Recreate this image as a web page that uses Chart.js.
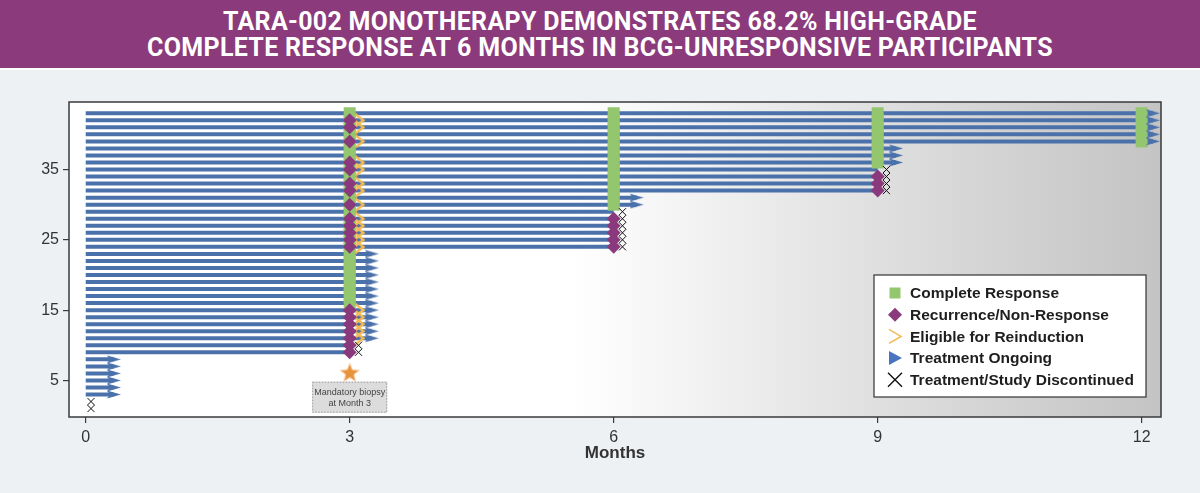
<!DOCTYPE html>
<html>
<head>
<meta charset="utf-8">
<script src="https://cdn.jsdelivr.net/npm/chart.js@4.4.1/dist/chart.umd.min.js"></script>
<style>
html, body { margin: 0; padding: 0; width: 1200px; height: 493px; overflow: hidden; background: #eef1f4; }
#title {
    position: absolute; left: 0; top: 0; width: 1200px; height: 70px; box-sizing: border-box;
    background: #8b3a7b; border-bottom: 2px solid #fff; color: #fff;
    font: 700 25px Roboto, "Liberation Sans", sans-serif; line-height: 26px; letter-spacing: 0.3px;
    text-align: center; padding-top: 9px;
}
#wrap { position: absolute; left: 0; top: 70px; width: 1200px; height: 423px; }
</style>
</head>
<body>
<div id="title">TARA-002 MONOTHERAPY DEMONSTRATES 68.2% HIGH-GRADE<br>COMPLETE RESPONSE AT 6 MONTHS IN BCG-UNRESPONSIVE PARTICIPANTS</div>
<div id="wrap"><canvas id="swimmerChart"></canvas></div>
<script>
// participants, bottom to top
const participants = [1, 2, 3, 4, 5, 6, 7, 8, 9, 10, 11, 12, 13, 14, 15, 16, 17, 18, 19, 20, 21, 22,
    23, 24, 25, 26, 27, 28, 29, 30, 31, 32, 33, 34, 35, 36, 37, 38, 39, 40, 41, 42, 43];
// month where each participant's bar stops
const lineEnd = [0, 0, 0.32, 0.32, 0.32, 0.32, 0.32, 0.32, 3, 3,
    3.25, 3.25, 3.25, 3.25, 3.25, 3.25, 3.25, 3.25, 3.25, 3.25, 3.25, 3.25, 3.25,
    6, 6, 6, 6, 6, 6, 6.26, 6.26, 9, 9, 9, 9, 9.21, 9.21, 9.21,
    12.13, 12.13, 12.13, 12.13, 12.13];

const monthTicks = [0, 3, 6, 9, 12];
const participantTicks = [5, 15, 25, 35];

const crAt3 = [16, 17, 18, 19, 20, 21, 22, 23, 24, 25, 26, 27, 28, 29, 30, 31, 32, 33, 34, 35,
    36, 37, 38, 39, 40, 41, 42, 43];
const crAt6 = [30, 31, 32, 33, 34, 35, 36, 37, 38, 39, 40, 41, 42, 43];
const crAt9 = [36, 37, 38, 39, 40, 41, 42, 43];
const crAt12 = [39, 40, 41, 42, 43];

const recurrenceAt3 = [9, 10, 11, 12, 13, 14, 15, 24, 25, 26, 27, 28, 30, 32, 33, 35, 36, 39, 41, 42];
const recurrenceAt6 = [24, 25, 26, 27, 28];
const recurrenceAt9 = [32, 33, 34];

const reinductionAt3 = [11, 12, 13, 14, 15, 24, 25, 26, 27, 28, 30, 32, 33, 35, 36, 39, 41, 42];
const reinductionMonth = 3.11;

const ongoingParticipants = [3, 4, 5, 6, 7, 8, 11, 12, 13, 14, 15, 16, 17, 18, 19, 20, 21, 22, 23,
    30, 31, 36, 37, 38, 39, 40, 41, 42, 43];

const discontinuedParticipants = [1, 2, 9, 10, 24, 25, 26, 27, 28, 29, 32, 33, 34, 35];
const discontinuedMonth = [0.06, 0.06, 3.1, 3.1, 6.1, 6.1, 6.1, 6.1, 6.1, 6.1, 9.1, 9.1, 9.1, 9.1];

const biopsyMonth = 3;
const biopsyMarkerY = 6.1;

const BLUE = '#4b71ab';
const GREEN = '#93c66e';
const PURPLE = '#8a3a7c';
const YELLOW = '#f3bb55';

// small canvases used as point styles
function makeCanvas(w, h, draw) {
    const c = document.createElement('canvas');
    c.width = w;
    c.height = h;
    draw(c.getContext('2d'));
    return c;
}

const arrowImg = makeCanvas(14, 9, g => {
    g.fillStyle = BLUE;
    g.beginPath();
    g.moveTo(0, 0.5);
    g.lineTo(14, 4.5);
    g.lineTo(0, 8.5);
    g.lineTo(3, 4.5);
    g.closePath();
    g.fill();
});

const chevronImg = makeCanvas(11, 14, g => {
    g.strokeStyle = YELLOW;
    g.lineWidth = 2.4;
    g.beginPath();
    g.moveTo(1.5, 1);
    g.lineTo(9.5, 7);
    g.lineTo(1.5, 13);
    g.stroke();
});

const starImg = makeCanvas(22, 22, g => {
    g.beginPath();
    for (let i = 0; i < 10; i++) {
        const r = i % 2 === 0 ? 10 : 4.3;
        const a = -Math.PI / 2 + i * Math.PI / 5;
        g.lineTo(11 + r * Math.cos(a), 11.5 + r * Math.sin(a));
    }
    g.closePath();
    g.fillStyle = '#e8923c';
    g.fill();
    g.strokeStyle = '#f6cfa6';
    g.lineWidth = 1;
    g.stroke();
});

const laneData = [];
participants.forEach((p, i) => {
    if (lineEnd[i] > 0) {
        laneData.push({ x: 0, y: p }, { x: lineEnd[i], y: p }, { x: lineEnd[i], y: null });
    }
});

const crData = [
    ...crAt3.map(p => ({ x: 3, y: p })),
    ...crAt6.map(p => ({ x: 6, y: p })),
    ...crAt9.map(p => ({ x: 9, y: p })),
    ...crAt12.map(p => ({ x: 12, y: p }))
];
const recurrenceData = [
    ...recurrenceAt3.map(p => ({ x: 3, y: p })),
    ...recurrenceAt6.map(p => ({ x: 6, y: p })),
    ...recurrenceAt9.map(p => ({ x: 9, y: p }))
];
const reinductionData = reinductionAt3.map(p => ({ x: reinductionMonth, y: p }));
const ongoingData = ongoingParticipants.map(p => ({ x: lineEnd[p - 1], y: p }));
const discontinuedData = discontinuedParticipants.map((p, i) => ({ x: discontinuedMonth[i], y: p }));

const legendItems = [
    { text: 'Complete Response', kind: 'square' },
    { text: 'Recurrence/Non-Response', kind: 'diamond' },
    { text: 'Eligible for Reinduction', kind: 'chevron' },
    { text: 'Treatment Ongoing', kind: 'triangle' },
    { text: 'Treatment/Study Discontinued', kind: 'cross' }
];

const plotBackground = {
    id: 'plotBackground',
    beforeDraw(chart) {
        const { ctx, chartArea: a } = chart;
        const grad = ctx.createLinearGradient(a.left, 0, a.right, 0);
        grad.addColorStop(0, '#ffffff');
        grad.addColorStop(0.46, '#ffffff');
        grad.addColorStop(0.68, '#e6e6e6');
        grad.addColorStop(0.86, '#d2d2d2');
        grad.addColorStop(1, '#c4c4c4');
        ctx.save();
        ctx.fillStyle = grad;
        ctx.fillRect(a.left, a.top, a.right - a.left, a.bottom - a.top);
        ctx.restore();
    },
    afterDraw(chart) {
        const { ctx, chartArea: a } = chart;
        ctx.save();
        ctx.strokeStyle = '#3a3a3a';
        ctx.lineWidth = 1.5;
        ctx.strokeRect(a.left, a.top, a.right - a.left, a.bottom - a.top);
        ctx.restore();
    }
};

const biopsyLabel = {
    id: 'biopsyLabel',
    afterDatasetsDraw(chart) {
        const { ctx, scales } = chart;
        const cx = scales.x.getPixelForValue(biopsyMonth);
        const top = scales.y.getPixelForValue(biopsyMarkerY) + 9;
        const w = 75, h = 31;
        ctx.save();
        ctx.fillStyle = '#dcdcdc';
        ctx.fillRect(cx - w / 2, top, w, h);
        ctx.setLineDash([1.5, 1.5]);
        ctx.strokeStyle = '#9a9a9a';
        ctx.lineWidth = 1;
        ctx.strokeRect(cx - w / 2 + 0.5, top + 0.5, w - 1, h - 1);
        ctx.fillStyle = '#444';
        ctx.font = '9px "Liberation Sans", sans-serif';
        ctx.textAlign = 'center';
        ctx.textBaseline = 'middle';
        ctx.fillText('Mandatory biopsy', cx, top + 10.5);
        ctx.fillText('at Month 3', cx, top + 21.5);
        ctx.restore();
    }
};

const boxLegend = {
    id: 'boxLegend',
    afterDraw(chart) {
        const { ctx, chartArea: a } = chart;
        const w = 272, h = 122;
        const left = a.right - 15 - w;
        const top = a.bottom - 20 - h;
        ctx.save();
        ctx.fillStyle = '#ffffff';
        ctx.fillRect(left, top, w, h);
        ctx.strokeStyle = '#333';
        ctx.lineWidth = 1.2;
        ctx.strokeRect(left, top, w, h);
        legendItems.forEach((item, i) => {
            const y = top + 18 + i * 21.7;
            const sx = left + 21;
            ctx.save();
            if (item.kind === 'square') {
                ctx.fillStyle = GREEN;
                ctx.fillRect(sx - 5.5, y - 5.5, 11, 11);
            } else if (item.kind === 'diamond') {
                ctx.fillStyle = PURPLE;
                ctx.beginPath();
                ctx.moveTo(sx, y - 7); ctx.lineTo(sx + 7, y); ctx.lineTo(sx, y + 7); ctx.lineTo(sx - 7, y);
                ctx.closePath();
                ctx.fill();
            } else if (item.kind === 'chevron') {
                ctx.strokeStyle = YELLOW;
                ctx.lineWidth = 1.6;
                ctx.beginPath();
                ctx.moveTo(sx - 6, y - 7); ctx.lineTo(sx + 6, y); ctx.lineTo(sx - 6, y + 7);
                ctx.stroke();
            } else if (item.kind === 'triangle') {
                ctx.fillStyle = '#4a74c0';
                ctx.beginPath();
                ctx.moveTo(sx - 6, y - 7); ctx.lineTo(sx + 7, y); ctx.lineTo(sx - 6, y + 7);
                ctx.closePath();
                ctx.fill();
            } else {
                ctx.strokeStyle = '#111';
                ctx.lineWidth = 1.4;
                ctx.beginPath();
                ctx.moveTo(sx - 7, y - 7); ctx.lineTo(sx + 7, y + 7);
                ctx.moveTo(sx + 7, y - 7); ctx.lineTo(sx - 7, y + 7);
                ctx.stroke();
            }
            ctx.restore();
            ctx.fillStyle = '#1e1e1e';
            ctx.font = '600 15.5px "Liberation Sans", sans-serif';
            ctx.textAlign = 'left';
            ctx.textBaseline = 'middle';
            ctx.fillText(item.text, left + 36, y + 1);
        });
        ctx.restore();
    }
};

function createSwimmerChart() {
    const ctx = document.getElementById('swimmerChart').getContext('2d');
    new Chart(ctx, {
        type: 'scatter',
        data: {
            datasets: [
                {
                    type: 'line',
                    label: 'Follow-up',
                    data: laneData,
                    borderColor: BLUE,
                    borderWidth: 4,
                    pointRadius: 0,
                    spanGaps: false,
                    order: 6
                },
                {
                    label: 'Complete Response',
                    data: crData,
                    pointStyle: 'rect',
                    pointRadius: 8.5,
                    backgroundColor: GREEN,
                    borderWidth: 0,
                    order: 5
                },
                {
                    label: 'Eligible for Reinduction',
                    data: reinductionData,
                    pointStyle: chevronImg,
                    pointRadius: 5,
                    order: 4
                },
                {
                    label: 'Recurrence/Non-Response',
                    data: recurrenceData,
                    pointStyle: 'rectRot',
                    pointRadius: 7,
                    backgroundColor: PURPLE,
                    borderWidth: 0,
                    order: 3
                },
                {
                    label: 'Treatment Ongoing',
                    data: ongoingData,
                    pointStyle: arrowImg,
                    pointRadius: 5,
                    order: 2
                },
                {
                    label: 'Treatment/Study Discontinued',
                    data: discontinuedData,
                    pointStyle: 'crossRot',
                    pointRadius: 5,
                    borderColor: '#111',
                    borderWidth: 1,
                    order: 1
                },
                {
                    label: 'Mandatory biopsy',
                    data: [{ x: biopsyMonth, y: biopsyMarkerY }],
                    pointStyle: starImg,
                    pointRadius: 8,
                    order: 0
                }
            ]
        },
        options: {
            responsive: true,
            maintainAspectRatio: false,
            animation: false,
            events: [],
            layout: { padding: { left: 0, right: 39, top: 32, bottom: 25 } },
            plugins: {
                legend: { display: false },
                tooltip: { enabled: false }
            },
            scales: {
                x: {
                    type: 'linear',
                    min: -0.19,
                    max: 12.22,
                    afterBuildTicks: scale => { scale.ticks = monthTicks.map(v => ({ value: v })); },
                    afterFit: scale => { scale.height = 51; },
                    border: { display: false },
                    grid: { drawOnChartArea: false, tickLength: 6, color: '#3a3a3a', lineWidth: 1.2 },
                    ticks: {
                        color: '#333',
                        padding: 5,
                        font: { family: '"Liberation Sans", sans-serif', size: 16 }
                    },
                    title: {
                        display: true,
                        text: 'Months',
                        color: '#333',
                        font: { family: '"Liberation Sans", sans-serif', size: 17, weight: 'bold' }
                    }
                },
                y: {
                    type: 'linear',
                    min: -0.2,
                    max: 44.6,
                    afterBuildTicks: scale => { scale.ticks = participantTicks.map(v => ({ value: v })); },
                    afterFit: scale => { scale.width = 69; },
                    border: { display: false },
                    grid: { drawOnChartArea: false, tickLength: 6, color: '#3a3a3a', lineWidth: 1.2 },
                    ticks: {
                        color: '#333',
                        padding: 4,
                        font: { family: '"Liberation Sans", sans-serif', size: 16 }
                    }
                }
            }
        },
        plugins: [plotBackground, biopsyLabel, boxLegend]
    });
}

createSwimmerChart();
</script>
</body>
</html>
